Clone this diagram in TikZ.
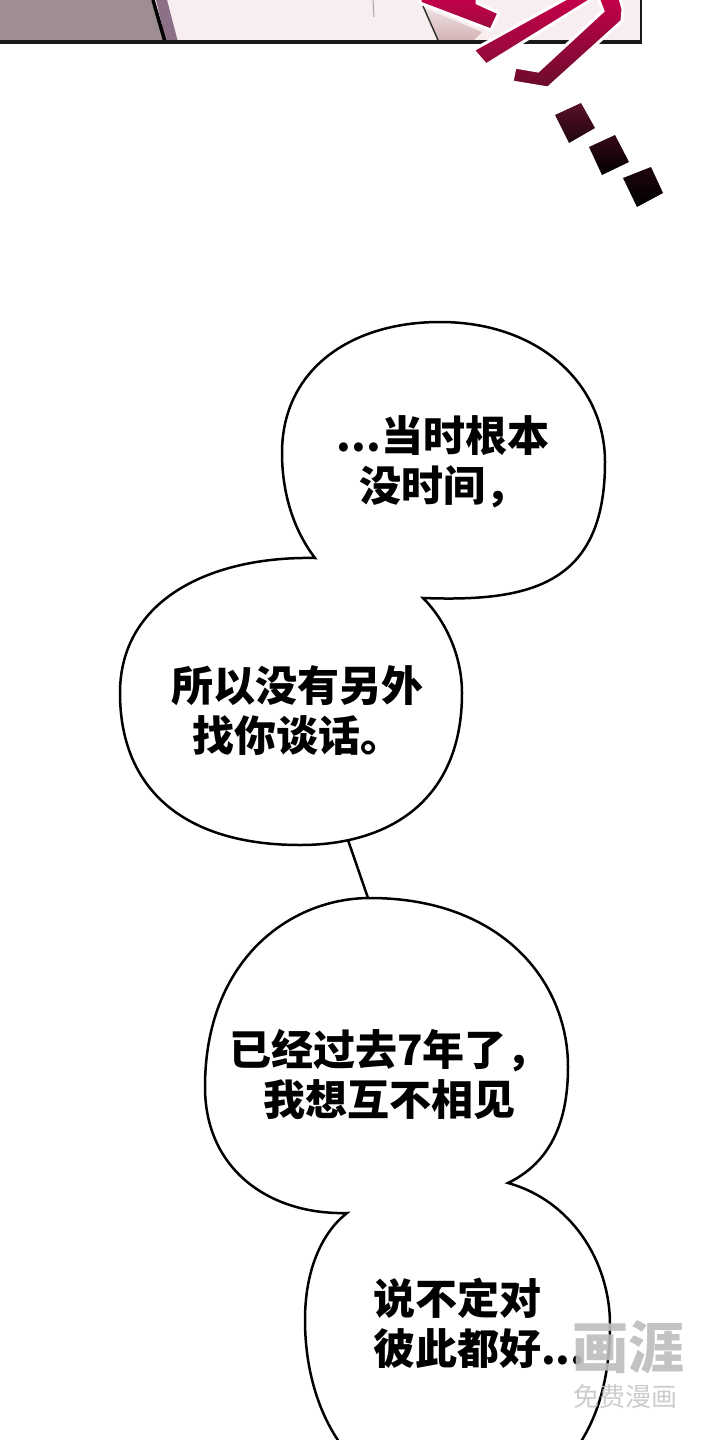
\documentclass[tikz,border=0pt]{standalone}
\usepackage{fontspec}
\newfontfamily\cjk{Noto Sans CJK SC}
\definecolor{panelpink}{HTML}{F8EDEF}
\definecolor{panelgray}{HTML}{9F8E91}
\definecolor{panelpurple}{HTML}{8C7088}
\definecolor{mauve}{HTML}{D2B1B3}
\definecolor{redtop}{HTML}{C4004A}
\definecolor{redmid}{HTML}{9A0A3E}
\definecolor{redbot}{HTML}{6A0C2C}
\definecolor{dotA}{HTML}{5A1029}
\definecolor{dotB}{HTML}{1E060C}
\definecolor{wmgray}{HTML}{BDBDBD}
\tikzset{
  bubble/.style={draw=black, fill=white, line width=2.5pt, line join=miter},
  conn/.style={draw=black, line width=2.5pt},
  txt/.style={inner sep=0pt, font=\cjk\bfseries\fontsize{42}{50}\selectfont, text=black},
  redpiece/.style={draw=white, line width=3pt, line join=miter},
  dotpiece/.style={top color=dotA, bottom color=dotB, draw=none},
  wmbig/.style={inner sep=0pt, font=\cjk\bfseries\fontsize{56}{60}\selectfont, text=wmgray, opacity=0.9},
  wmsmall/.style={inner sep=0pt, font=\cjk\fontsize{26}{30}\selectfont, text=wmgray!85, opacity=0.9}
}
\begin{document}
\begin{tikzpicture}[x=1pt,y=-1pt]
\useasboundingbox (0,0) rectangle (720,1440);
\clip (0,0) rectangle (720,1440);
\fill[white] (0,0) rectangle (720,1440);

% ---- top panel ----
\fill[panelpink] (0,0) rectangle (641,42);
\fill[panelgray] (0,0) -- (153,0) -- (165,42) -- (0,42) -- cycle;
\fill[panelpurple] (156,0) -- (167,0) -- (178,42) -- (166,42) -- cycle;
\draw[black, line width=3.5pt] (153,0) -- (165,42);
\draw[black!35, line width=1pt] (373,0) -- (374,17);
\shade[top color=mauve!40, bottom color=mauve] (424,8) -- (438,42) -- (472,42) -- (482,32) -- cycle;
\draw[black!80, line width=1.5pt] (423,6) -- (438,40);
\draw[black!90, line width=3.5pt] (0,42) -- (642,42);
\draw[black!90, line width=2.5pt] (641,0) -- (641,43.7);

% ---- red sound effect ----
\shadedraw[redpiece, top color=redtop, bottom color=redmid] (420,-2) -- (477,-2) -- (477,3) -- (499,13) -- (491,30) -- (420,3) -- cycle;
\shadedraw[redpiece, top color=redtop, bottom color=redmid!80!redbot] (473,50) -- (567,-2) -- (594,-2) -- (486,65) -- cycle;
\shadedraw[redpiece, top color=redtop, bottom color=redbot] (598,-2) -- (620,-2) -- (623,9) -- (622,21) -- (548,88) -- (512,82) -- (515,67) -- (538,71) -- (603,11) -- cycle;

% ---- dots ----
\shade[dotpiece] (555,115) -- (581,103) -- (595,128) -- (569,143) -- cycle;
\shade[top color=dotB!60!dotA, bottom color=black] (589,147) -- (615,135) -- (629,162) -- (602,175) -- cycle;
\shade[top color=dotB, bottom color=black] (623,178) -- (651,167) -- (663,193) -- (637,207) -- cycle;

% ---- connector between bubble 2 and 3 ----
\coordinate (c1) at (348,840);
\coordinate (c2) at (368,898);
\draw[conn] (c1) -- (c2);

% ---- bubbles 1 + 2 ----
\draw[bubble] (315,558)
  .. controls (292,528) and (282,490) .. (282,453)
  .. controls (282,370) and (350,322) .. (440,322)
  .. controls (540,322) and (605,385) .. (605,462)
  .. controls (605,585) and (530,602) .. (423,598)
  .. controls (445,620) and (462,655) .. (462,693)
  .. controls (462,800) and (390,845) .. (300,845)
  .. controls (185,845) and (120,790) .. (120,693)
  .. controls (120,600) and (210,556) .. (315,558) -- cycle;

% ---- bubbles 3 + 4 ----
\draw[bubble] (347,1213)
  .. controls (270,1215) and (205,1170) .. (205,1087)
  .. controls (205,960) and (290,898) .. (370,898)
  .. controls (500,898) and (568,980) .. (568,1067)
  .. controls (568,1130) and (545,1165) .. (508,1183)
  .. controls (570,1200) and (610,1260) .. (610,1325)
  .. controls (610,1440) and (550,1505) .. (460,1505)
  .. controls (360,1505) and (305,1420) .. (305,1320)
  .. controls (305,1265) and (325,1230) .. (347,1213) -- cycle;

% ---- texts ----
\node[txt, align=center] (t1) at (443,462) {...当时根本\\没时间，};
\node[txt, align=center] (t2) at (297,711) {所以没有另外\\找你谈话。};
\node[txt, align=center] (t3) at (389,1074) {已经过去7年了，\\我想互不相见};
\node[txt, align=left, anchor=west] (t4) at (373,1323) {说不定对\\彼此都好...};

% ---- watermark ----
\node[wmbig] (wm1) at (628,1347) {画涯};
\node[wmsmall] (wm2) at (625,1397) {免费漫画};
\end{tikzpicture}
\end{document}
